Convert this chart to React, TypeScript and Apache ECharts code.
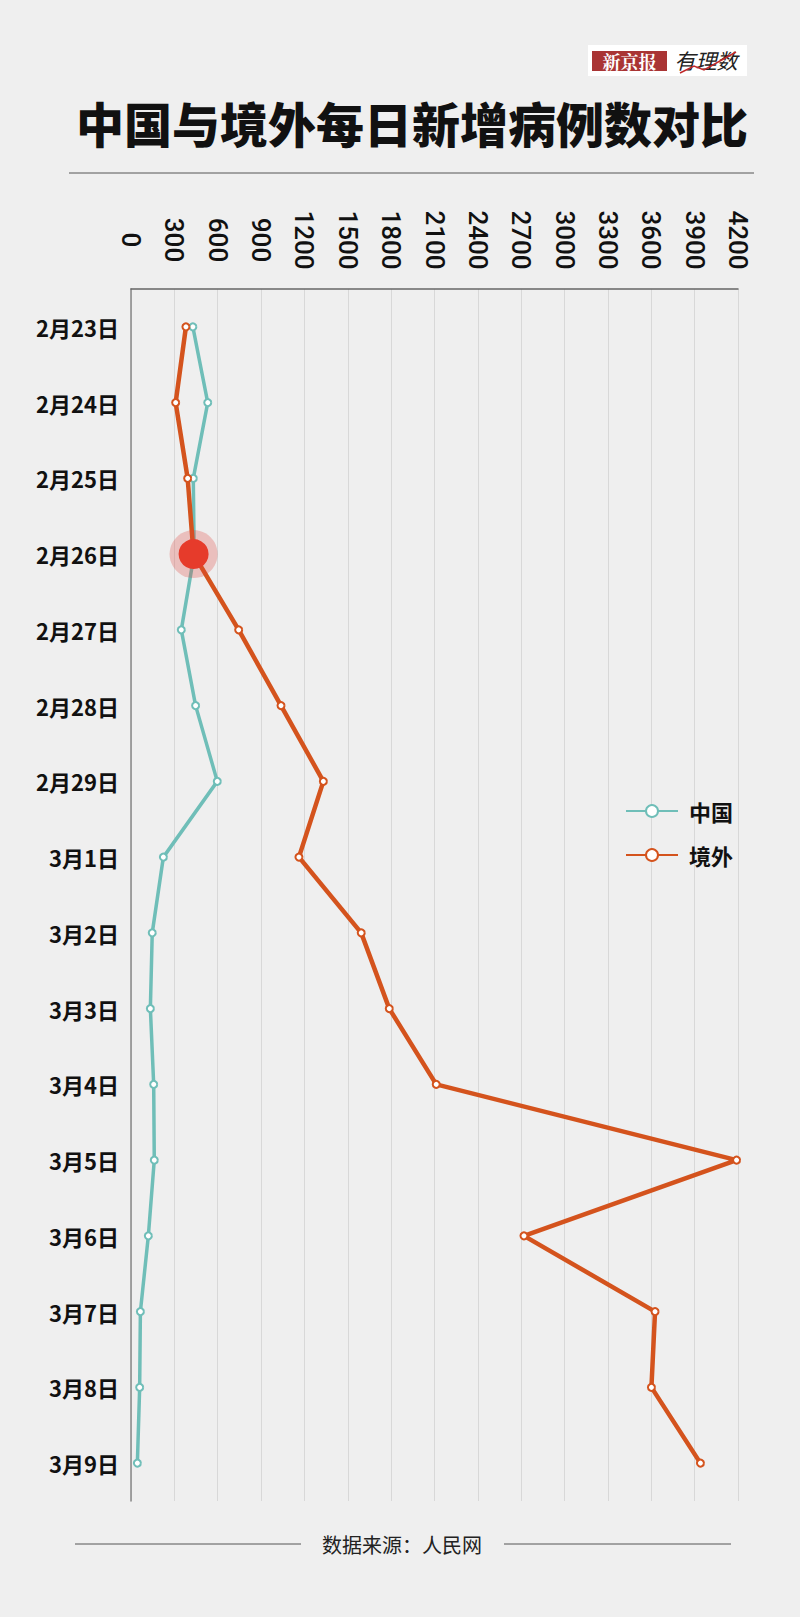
import React, { useEffect, useRef } from "react";
import * as echarts from "echarts";

const categories = [
  "2月23日", "2月24日", "2月25日", "2月26日", "2月27日", "2月28日", "2月29日",
  "3月1日", "3月2日", "3月3日", "3月4日", "3月5日", "3月6日", "3月7日", "3月8日", "3月9日",
];
const chinaValues = [428, 531, 431, 437, 348, 447, 597, 224, 147, 134, 157, 161, 120, 65, 60, 44];
const overseasValues = [380, 309, 392, 433, 745, 1038, 1331, 1162, 1593, 1787, 2112, 4190, 2719, 3626, 3601, 3940];
const seriesNames = ["中国", "境外"];
const highlightCategory = "2月26日";
const highlightValue = 433;
const titleText = "中国与境外每日新增病例数对比";
const sourceText = "数据来源：人民网";

const TEAL = "#6fbeb8";
const ORANGE = "#d4531d";
const CJK = '"Noto Sans CJK SC", "Noto Sans", sans-serif';

export default function App() {
  const ref = useRef<HTMLDivElement>(null);
  useEffect(() => {
    if (!ref.current) return;
    const chart = echarts.init(ref.current, null, { renderer: "svg" });
    chart.setOption({
      animation: false,
      backgroundColor: "#efefef",
      grid: { left: 131, right: 62, top: 289, height: 1212, containLabel: false },
      legend: {
        orient: "vertical",
        left: 620,
        top: 795,
        itemWidth: 52,
        itemHeight: 15,
        itemGap: 22,
        data: seriesNames,
        textStyle: { fontFamily: CJK, fontSize: 22, fontWeight: "bold", color: "#111", padding: [0, 0, 0, 6] },
      },
      xAxis: {
        type: "value",
        position: "top",
        min: 0,
        max: 4200,
        interval: 300,
        axisLine: { show: true, lineStyle: { color: "#666", width: 1.5 } },
        axisTick: { show: false },
        splitLine: { show: true, lineStyle: { color: "#d8d8d8", width: 1 } },
        axisLabel: {
          rotate: 90,
          align: "center",
          verticalAlign: "middle",
          margin: 49,
          formatter: (v: number) => String(v),
          fontFamily: 'Roboto, "Liberation Sans", Arial, sans-serif',
          fontWeight: 500,
          fontSize: 26,
          color: "#111",
        },
      },
      yAxis: {
        type: "category",
        data: categories,
        inverse: true,
        boundaryGap: true,
        axisLine: { show: true, lineStyle: { color: "#888", width: 1.5 } },
        axisTick: { show: false },
        splitLine: { show: false },
        axisLabel: {
          margin: 12,
          fontFamily: CJK,
          fontSize: 22,
          fontWeight: "bold",
          color: "#111",
        },
      },
      series: [
        {
          name: seriesNames[0],
          type: "line",
          data: chinaValues,
          symbol: "emptyCircle",
          symbolSize: 7,
          lineStyle: { color: TEAL, width: 3.5 },
          itemStyle: { color: TEAL, borderColor: TEAL, borderWidth: 1.5 },
          z: 2,
        },
        {
          name: seriesNames[1],
          type: "line",
          data: overseasValues,
          symbol: "emptyCircle",
          symbolSize: 7,
          lineStyle: { color: ORANGE, width: 4.5 },
          itemStyle: { color: ORANGE, borderColor: ORANGE, borderWidth: 1.5 },
          z: 3,
          markPoint: {
            symbol: "circle",
            label: { show: false },
            data: [
              { coord: [highlightValue, highlightCategory], symbolSize: 48, itemStyle: { color: "rgba(222,70,60,0.28)" } },
              { coord: [highlightValue, highlightCategory], symbolSize: 30, itemStyle: { color: "#e63b2b" } },
            ],
          },
        },
      ],
      graphic: [
        { type: "rect", shape: { x: 588, y: 45, width: 159, height: 31 }, style: { fill: "#ffffff" } },
        { type: "rect", shape: { x: 592, y: 51, width: 75, height: 20 }, style: { fill: "#a93434" } },
        {
          type: "text",
          x: 629.5,
          y: 61,
          style: { text: "新京报", fill: "#fff", font: 'bold 18px "Noto Serif CJK SC", "Noto Sans CJK SC", serif', align: "center", verticalAlign: "middle" },
        },
        {
          type: "text",
          x: 706,
          y: 60,
          style: { text: "有理数", fill: "#222", font: 'italic 21px "Noto Sans CJK SC", sans-serif', align: "center", verticalAlign: "middle" },
        },
        {
          type: "polyline",
          shape: { points: [[680, 73], [694, 66], [704, 70], [736, 52]] },
          style: { stroke: "#c0282a", lineWidth: 1.5, fill: "none" },
        },
        {
          type: "text",
          x: 412,
          y: 122,
          style: { text: titleText, fill: "#111", font: `900 48px ${CJK}`, align: "center", verticalAlign: "middle" },
        },
        { type: "line", shape: { x1: 69, y1: 173, x2: 754, y2: 173 }, style: { stroke: "#555", lineWidth: 1 } },
        { type: "line", shape: { x1: 75, y1: 1544, x2: 301, y2: 1544 }, style: { stroke: "#555", lineWidth: 1 } },
        { type: "line", shape: { x1: 504, y1: 1544, x2: 731, y2: 1544 }, style: { stroke: "#555", lineWidth: 1 } },
        {
          type: "text",
          x: 402,
          y: 1544,
          style: { text: sourceText, fill: "#222", font: `20px ${CJK}`, align: "center", verticalAlign: "middle" },
        },
      ],
    });
    return () => chart.dispose();
  }, []);
  return <div ref={ref} style={{ position: "absolute", left: 0, top: 0, width: 800, height: 1617 }} />;
}
